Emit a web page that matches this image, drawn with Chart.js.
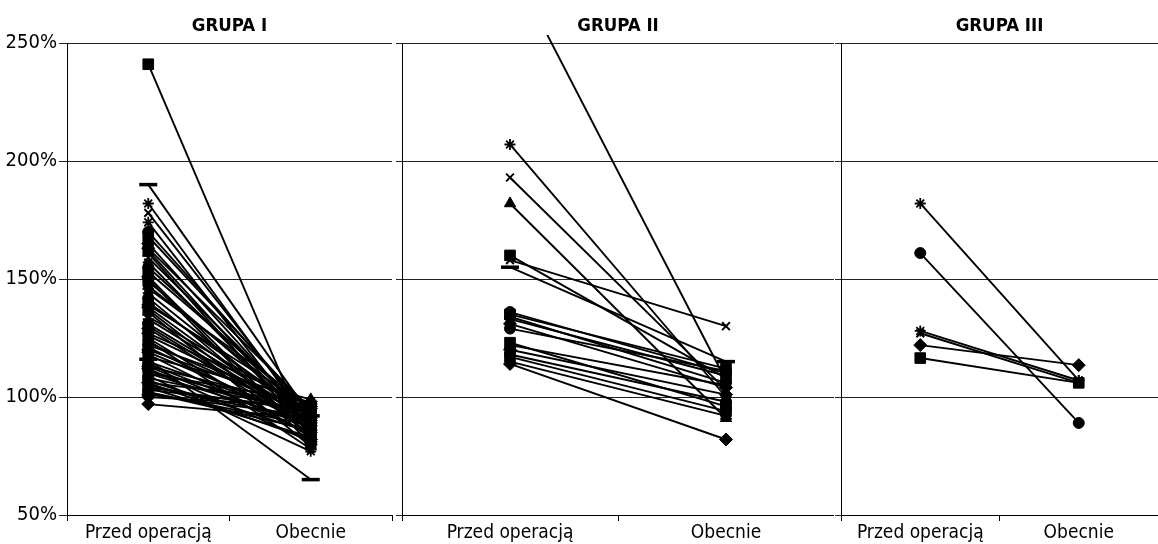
<!DOCTYPE html>
<html>
<head>
<meta charset="utf-8">
<script src="https://cdn.jsdelivr.net/npm/chart.js@4.4.0/dist/chart.umd.min.js"></script>
<style>
  html, body { margin: 0; padding: 0; background: #fff; }
  body { width: 1158px; height: 544px; position: relative; overflow: hidden; }
  .panel { position: absolute; top: 0; height: 544px; }
</style>
</head>
<body>
<div class="panel" style="left:0;width:394px"><canvas id="chart1" width="394" height="544"></canvas></div>
<div class="panel" style="left:396px;width:438px"><canvas id="chart2" width="438" height="544"></canvas></div>
<div class="panel" style="left:835px;width:323px"><canvas id="chart3" width="323" height="544"></canvas></div>
<script>
// categories, ticks and titles
var categories = ['Przed operacją', 'Obecnie'];
var yTicks = [50, 100, 150, 200, 250];
var panelTitles = ['GRUPA I', 'GRUPA II', 'GRUPA III'];

// GRUPA I - values in %, one entry per patient
var g1Before = [241, 190, 182, 178, 174, 170, 168, 165, 163, 162, 161, 159, 157, 155, 153, 151, 150, 149, 147, 146,
                144, 142, 140, 139, 138, 137, 136, 134, 133, 131, 130, 129, 127, 126, 125, 124, 123, 122, 121, 120,
                119, 118, 117, 116, 115, 114, 113, 113, 112, 111, 110, 110, 109, 108, 107, 106, 106, 105, 104, 104,
                103, 102, 102, 101, 100, 97];
var g1After  = [80, 92, 88, 90, 86, 93, 94, 89, 95, 87, 84, 91, 87, 92, 94, 82, 80, 90, 93, 96,
                89, 85, 92, 96, 88, 84, 79, 94, 91, 90, 88, 86, 97, 93, 83, 78, 92, 97, 88, 95,
                90, 84, 99, 65, 91, 87, 96, 85, 81, 93, 89, 98, 77, 94, 85, 98, 82, 90, 83, 94,
                95, 88, 86, 92, 96, 91];

// GRUPA II
var g2Before = [284, 207, 193, 182, 160, 158, 155, 136, 135, 134, 133, 131, 129, 123, 122, 120, 118, 117, 115, 114];
var g2After  = [107, 100, 103, 91, 108, 130, 115, 110, 112, 106, 109, 104, 111, 96, 105, 101, 98, 94, 92, 82];

// GRUPA III
var g3Before = [182, 161, 128, 127, 122, 116.5];
var g3After  = [107, 89, 107, 106, 113.5, 106];

// marker shapes per series (Excel style cycle)
var markerCycle = ['rectRot', 'rect', 'triangle', 'crossRot', 'star', 'circle', 'rect', 'rectRot'];
var g1Markers = g1Before.map(function (v, i) { return markerCycle[i % markerCycle.length]; });
g1Markers[0] = 'rect';
g1Markers[1] = 'line';
g1Markers[2] = 'star';
g1Markers[43] = 'line';
g1Markers[65] = 'rectRot';
var g2Markers = ['cross', 'star', 'crossRot', 'triangle', 'rect', 'crossRot', 'line', 'circle', 'rect', 'circle',
                 'star', 'rectRot', 'circle', 'rect', 'triangle', 'rectRot', 'circle', 'rect', 'triangle', 'rectRot'];
var g3Markers = ['star', 'circle', 'star', 'crossRot', 'rectRot', 'rect'];

var markerRadius = { rect: 7.5, rectRot: 6.5, circle: 5.5, triangle: 6.5, crossRot: 5.5, star: 5.5, cross: 5, line: 9 };
var markerBorder = { rect: 1, rectRot: 1, circle: 1, triangle: 1, crossRot: 2, star: 1.8, cross: 2, line: 3.5 };

Chart.defaults.font.family = "'DejaVu Sans Condensed', 'Liberation Sans Narrow', 'Arial Narrow', sans-serif";
Chart.defaults.color = '#000';

function buildDatasets(before, after, markers) {
    return before.map(function (b, i) {
        var m = markers[i];
        return {
            data: [b, after[i]],
            borderColor: '#000',
            borderWidth: 1.9,
            tension: 0,
            clip: 8,
            pointStyle: m,
            pointRadius: markerRadius[m],
            pointBorderWidth: markerBorder[m],
            pointBackgroundColor: '#000',
            pointBorderColor: '#000'
        };
    });
}

function makePanel(canvasId, title, before, after, markers, showYLabels, yWidth, padRight) {
    var ctx = document.getElementById(canvasId).getContext('2d');
    return new Chart(ctx, {
        type: 'line',
        data: {
            labels: categories,
            datasets: buildDatasets(before, after, markers)
        },
        options: {
            responsive: false,
            animation: false,
            events: [],
            layout: { autoPadding: false, padding: { right: padRight } },
            plugins: {
                legend: { display: false },
                tooltip: { enabled: false },
                title: {
                    display: true,
                    text: title,
                    fullSize: false,
                    color: '#000',
                    font: { size: 18.5, weight: 'bold' },
                    padding: { top: 14.8, bottom: 6 }
                }
            },
            scales: {
                x: {
                    offset: true,
                    grid: { offset: true, drawOnChartArea: false, drawTicks: true, tickLength: 6, color: '#000' },
                    border: { display: true, color: '#000' },
                    ticks: { font: { size: 19 }, padding: 1, maxRotation: 0, autoSkip: false },
                    afterFit: function (scale) { scale.height = 29; }
                },
                y: {
                    min: yTicks[0],
                    max: yTicks[yTicks.length - 1],
                    ticks: {
                        stepSize: yTicks[1] - yTicks[0],
                        display: showYLabels,
                        font: { size: 20 },
                        padding: 2,
                        callback: function (v) { return v + '%'; }
                    },
                    grid: { color: '#222', lineWidth: 1, drawTicks: true, tickLength: showYLabels ? 8 : 6 },
                    border: { display: true, color: '#000' },
                    afterFit: function (scale) { scale.width = yWidth; }
                }
            }
        }
    });
}

makePanel('chart1', panelTitles[0], g1Before, g1After, g1Markers, true, 67, 2);
makePanel('chart2', panelTitles[1], g2Before, g2After, g2Markers, false, 6, 0);
makePanel('chart3', panelTitles[2], g3Before, g3After, g3Markers, false, 6, 0);
</script>
</body>
</html>
